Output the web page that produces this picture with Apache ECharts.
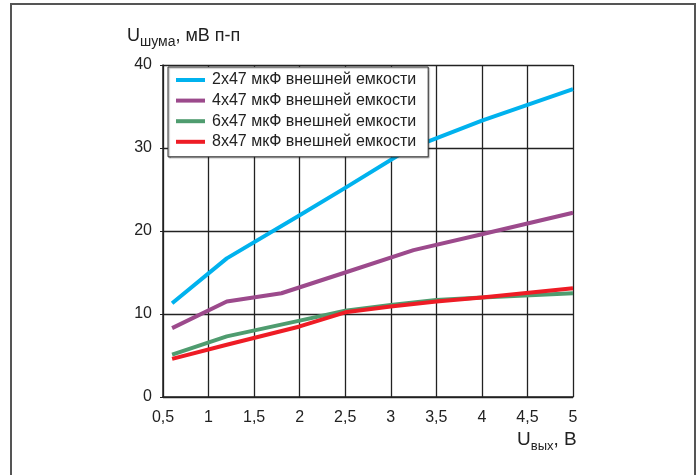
<!DOCTYPE html>
<html>
<head>
<meta charset="utf-8">
<script src="https://cdn.jsdelivr.net/npm/echarts@6/dist/echarts.min.js"></script>
<style>
  html, body { margin: 0; padding: 0; background: #fff; }
  #chart { width: 700px; height: 475px; }
</style>
</head>
<body>
<div id="chart"></div>
<script>
// series names (legend)
const seriesNames = [
  '2x47 мкФ внешней емкости',
  '4x47 мкФ внешней емкости',
  '6x47 мкФ внешней емкости',
  '8x47 мкФ внешней емкости'
];
const seriesColors = ['#00b2ee', '#9c4a8c', '#4f9c6f', '#ee1c25'];

// [Uвых, Uшума] points
const noise2x47 = [[0.6, 11.3], [1.2, 16.7], [2, 21.9], [2.5, 25.2], [3.2, 29.9], [4, 33.3], [4.5, 35.2], [5, 37.1]];
const noise4x47 = [[0.6, 8.3], [1.2, 11.5], [1.8, 12.5], [2.5, 15.0], [3.25, 17.7], [4, 19.6], [5, 22.2]];
const noise6x47 = [[0.6, 5.1], [1.2, 7.3], [2, 9.2], [2.5, 10.4], [3, 11.1], [3.5, 11.7], [4, 12.0], [5, 12.5]];
const noise8x47 = [[0.6, 4.6], [1.2, 6.3], [2, 8.5], [2.5, 10.2], [3, 10.9], [3.5, 11.5], [4, 12.0], [5, 13.1]];

const allSeries = [noise2x47, noise4x47, noise6x47, noise8x47];

const font = 'Liberation Sans, Arial, sans-serif';
const chart = echarts.init(document.getElementById('chart'));

chart.setOption({
  animation: false,
  textStyle: { fontFamily: font, color: '#222' },
  grid: { left: 163, right: 127, top: 65, bottom: 78 },
  graphic: [
    {
      type: 'rect',
      shape: { x: 11, y: 4, width: 684, height: 480 },
      style: { fill: 'none', stroke: '#555', lineWidth: 2 }
    },
    {
      type: 'text',
      left: 127, top: 27,
      style: {
        text: '{u|U}{s|шума}{u|, мВ п-п}',
        rich: {
          u: { fontSize: 18, fontFamily: font, fill: '#222', verticalAlign: 'bottom' },
          s: { fontSize: 14, fontFamily: font, fill: '#222', verticalAlign: 'bottom', padding: [0, 0, -4, 0] }
        }
      }
    },
    {
      type: 'text',
      left: 517, top: 430,
      style: {
        text: '{u|U}{s|вых}{u|, В}',
        rich: {
          u: { fontSize: 19, fontFamily: font, fill: '#222', verticalAlign: 'bottom' },
          s: { fontSize: 13, fontFamily: font, fill: '#222', verticalAlign: 'bottom', padding: [0, 0, -4, 0] }
        }
      }
    }
  ],
  legend: {
    orient: 'vertical',
    left: 168, top: 67,
    padding: [5, 12, 7, 8],
    itemGap: 4.6,
    itemWidth: 29, itemHeight: 4,
    icon: 'rect',
    backgroundColor: '#fff',
    borderColor: '#333',
    borderWidth: 1,
    shadowColor: 'rgba(0,0,0,0.35)',
    shadowBlur: 1, shadowOffsetX: 1, shadowOffsetY: 1,
    textStyle: { fontSize: 16, fontFamily: font, color: '#222', padding: [0, 0, 0, 2] },
    data: seriesNames
  },
  xAxis: {
    type: 'value',
    min: 0.5, max: 5, interval: 0.5,
    axisLine: { show: true, onZero: false, lineStyle: { color: '#222', width: 1.5 } },
    axisTick: { show: false },
    axisLabel: {
      fontSize: 16, color: '#222', margin: 13,
      formatter: v => String(v).replace('.', ',')
    },
    splitLine: { show: true, lineStyle: { color: '#222', width: 1.3 } }
  },
  yAxis: {
    type: 'value',
    min: 0, max: 40, interval: 10,
    axisLine: { show: true, lineStyle: { color: '#222', width: 1.5 } },
    axisTick: { show: true, length: 3, lineStyle: { color: '#222' } },
    axisLabel: { fontSize: 16, color: '#222', margin: 11 },
    splitLine: { show: true, lineStyle: { color: '#222', width: 1.3 } }
  },
  series: allSeries.map((data, i) => ({
    name: seriesNames[i],
    type: 'line',
    data: data,
    symbol: 'none',
    color: seriesColors[i],
    lineStyle: { width: 4, color: seriesColors[i], join: 'round' },
    z: 3 + (i === 3 ? 1 : 0)
  }))
});
</script>
</body>
</html>
